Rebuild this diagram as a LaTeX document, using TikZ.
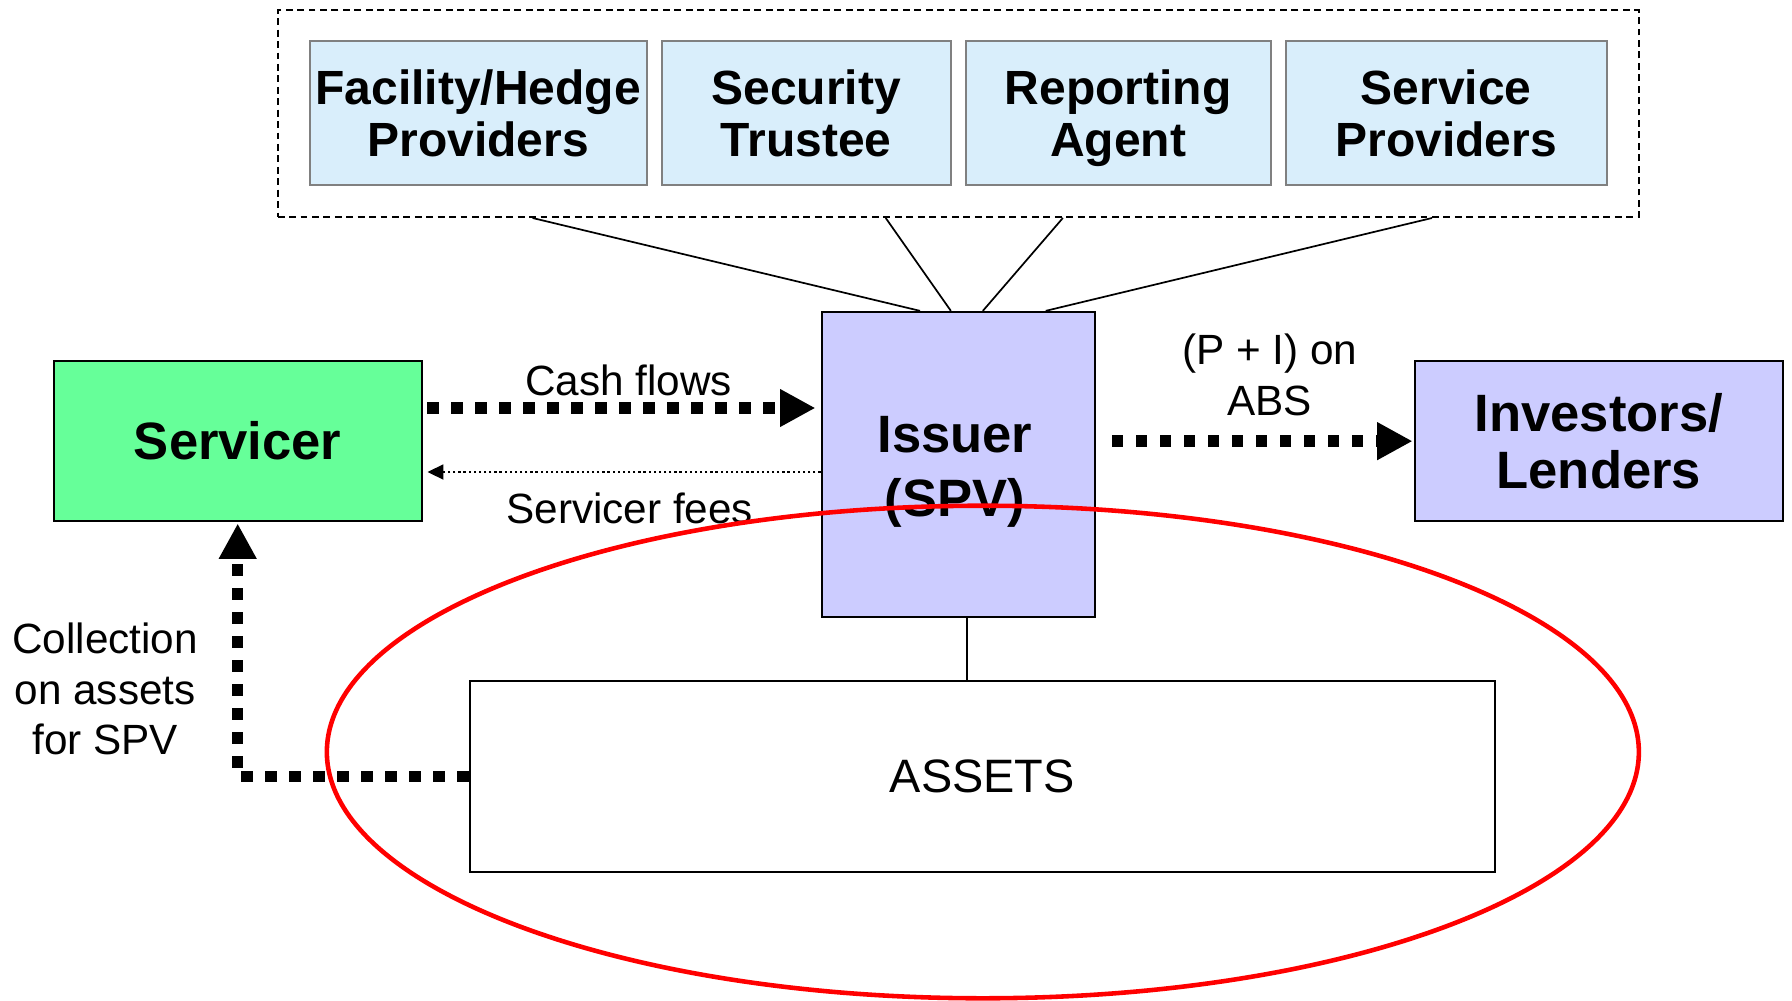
\documentclass[tikz,border=0pt]{standalone}
\usepackage{fontspec}
\setmainfont{Liberation Sans}
\usetikzlibrary{arrows.meta,calc}
\definecolor{partyblue}{RGB}{217,238,251}
\definecolor{spvlilac}{RGB}{204,204,255}
\definecolor{servgreen}{RGB}{102,255,153}
\definecolor{partyedge}{RGB}{128,128,128}
\tikzset{
  party/.style={draw=partyedge, line width=2pt, fill=partyblue, minimum height=126pt,
    inner sep=0pt, align=center, text depth=0pt, font=\fontsize{42}{46}\selectfont\bfseries},
  mainbox/.style={draw=black, line width=2pt, inner sep=0pt, align=center,
    font=\fontsize{46}{50}\selectfont\bfseries},
  boldtext/.style={inner sep=0pt, align=center, font=\fontsize{46}{56}\selectfont\bfseries},
  lbl/.style={inner sep=0pt, align=center, font=\fontsize{37}{44}\selectfont},
  flow/.style={line width=10pt, dash pattern=on 10pt off 11pt,
    -{Triangle[length=31pt,width=31pt]}},
  feeflow/.style={line width=2pt, dash pattern=on 2pt off 2.5pt,
    -{Triangle[length=14pt,width=13pt]}},
  link/.style={line width=1.5pt},
  ring/.style={draw=red, line width=4pt},
}
\begin{document}
\begin{tikzpicture}[x=1pt,y=-1pt]
\useasboundingbox (0,0) rectangle (1568,875);
\fill[white] (0,0) rectangle (1568,875);

% supporting parties
\node[draw, line width=1.5pt, dash pattern=on 6pt off 4pt,
      minimum width=1191pt, minimum height=181pt, inner sep=0pt] (grp) at (838.5,99.5) {};
\node[party, minimum width=295pt] (facility)  at (418.5,99)  {Facility/Hedge\\Providers};
\node[party, minimum width=253pt] (security)  at (705.5,99)  {Security\\Trustee};
\node[party, minimum width=267pt] (reporting) at (978.5,99)  {Reporting\\Agent};
\node[party, minimum width=281pt] (service)   at (1265.5,99) {Service\\Providers};

% main parties
\node[mainbox, fill=spvlilac, minimum width=239pt, minimum height=267pt] (issuer) at (838.5,406.5) {};
\node[boldtext] (issuertext) at (835.5,413) {Issuer\\(SPV)};
\node[mainbox, fill=servgreen, minimum width=322pt, minimum height=140pt] (servicer) at (208,386) {Servicer};
\node[mainbox, fill=spvlilac, minimum width=322pt, minimum height=140pt] (investors) at (1399,386) {Investors/\\Lenders};
\node[draw=black, line width=1.5pt, fill=white, minimum width=897pt, minimum height=167pt,
      inner sep=0pt, font=\fontsize{41}{46}\selectfont] (assets) at (859.5,679.5) {ASSETS};

% links from the parties to the issuer
\draw[link] ($(facility.south |- grp.south)+(47.5,0)$)  -- ($(issuer.north)+(-33.5,0)$);
\draw[link] ($(security.south |- grp.south)+(69.5,0)$)  -- ($(issuer.north)+(-6.5,0)$);
\draw[link] ($(reporting.south |- grp.south)+(-48.5,0)$) -- ($(issuer.north)+(21.5,0)$);
\draw[link] ($(service.south |- grp.south)+(-12.5,0)$)  -- ($(issuer.north)+(76.5,0)$);
\draw[link] ($(issuer.south)+(7.5,0)$) -- ($(issuer.south |- assets.north)+(7.5,0)$);

% cash flows
\draw[flow, shorten <=4pt, shorten >=4.5pt] ($(servicer.east)+(0,-29)$) -- ($(servicer.east -| issuer.west)+(0,-29)$);
\draw[feeflow, shorten >=4pt] ($(servicer.east -| issuer.west)+(0,27)$) -- ($(servicer.east)+(0,27)$);
\draw[flow, shorten <=14pt, shorten >=1pt] (issuer.east |- investors.west) -- (investors.west);
\draw[flow, shorten >=1pt] (assets.west) -| (servicer.south);

% labels
\node[lbl] (cashlbl) at (550,333) {Cash flows};
\node[lbl] (feelbl)  at (551,445) {Servicer fees};
\node[lbl] (pilbl)   at (1111,328) {(P + I) on\\ABS};
\node[lbl] (colllbl) at (92,603) {Collection\\on assets\\for SPV};

% highlight around the asset pool
\draw[ring] (860,658) ellipse [x radius=574, y radius=215.5];
\end{tikzpicture}
\end{document}
